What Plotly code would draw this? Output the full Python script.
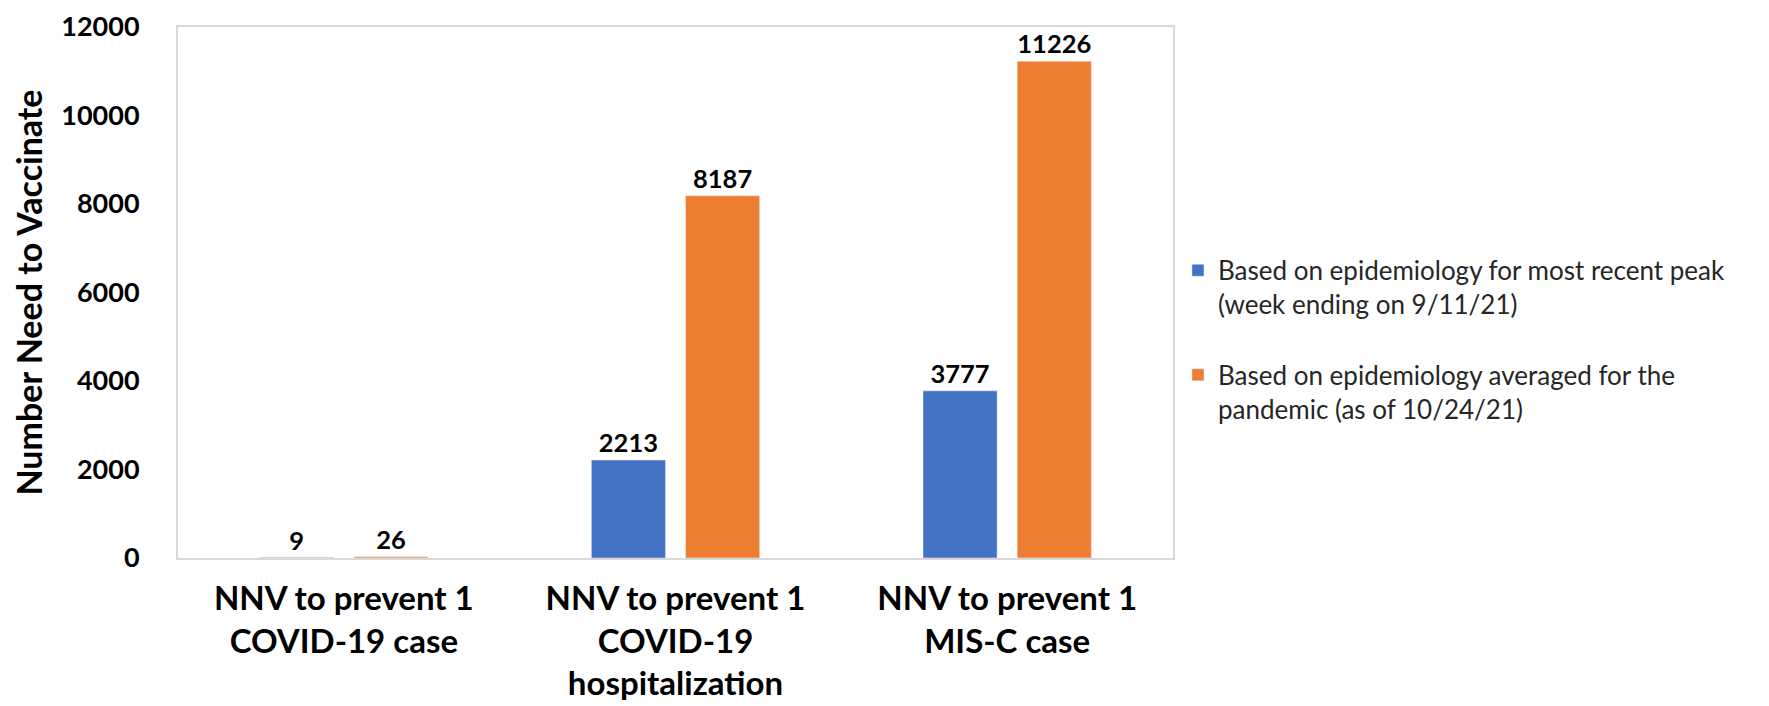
import plotly.graph_objects as go

categories = ["NNV to prevent 1<br>COVID-19 case",
              "NNV to prevent 1<br>COVID-19<br>hospitalization",
              "NNV to prevent 1<br>MIS-C case"]
series_names = ["Based on epidemiology for most recent peak<br>(week ending on 9/11/21)",
                "Based on epidemiology averaged for the<br>pandemic (as of 10/24/21)"]
recent_peak = [9, 2213, 3777]
pandemic_avg = [26, 8187, 11226]
colors = ["#4472C4", "#ED7D31"]
y_ticks = [0, 2000, 4000, 6000, 8000, 10000, 12000]

FONT = "Lato"
fig = go.Figure()
for i, (name, vals) in enumerate(zip(series_names, [recent_peak, pandemic_avg])):
    fig.add_trace(go.Bar(
        x=categories, y=vals, name=name, marker_color=colors[i],
        text=[str(v) for v in vals], textposition="outside",
        textfont=dict(family=FONT, size=25.5, color="black", weight="bold"),
        cliponaxis=False, legendgroup=f"g{i}",
    ))

axis_line = dict(showline=True, linecolor="#D9D9D9", linewidth=2, mirror=True)
fig.update_layout(
    width=1769, height=706,
    margin=dict(l=170, r=604, t=19, b=156),
    plot_bgcolor="white", paper_bgcolor="white",
    barmode="group", bargap=0.432, bargroupgap=0.213,
    font=dict(family=FONT, color="black"),
    xaxis=dict(showgrid=False, tickfont=dict(size=33, weight="bold"),
               ticklabelstandoff=10, automargin=False, **axis_line),
    yaxis=dict(range=[0, 12000], tickvals=y_ticks, ticktext=[str(v) for v in y_ticks],
               showgrid=False, zeroline=False,
               tickfont=dict(size=27, weight="bold"), ticklabelstandoff=31,
               automargin=False,
               title=dict(text="Number Need to Vaccinate", standoff=12,
                          font=dict(size=34, weight="bold")),
               **axis_line),
    legend=dict(x=1.005, y=0.586, xanchor="left", yanchor="top",
                font=dict(size=26, color="#262626"), valign="top",
                tracegroupgap=34, bgcolor="rgba(0,0,0,0)"),
    showlegend=True,
)
fig.write_html("out.html")
